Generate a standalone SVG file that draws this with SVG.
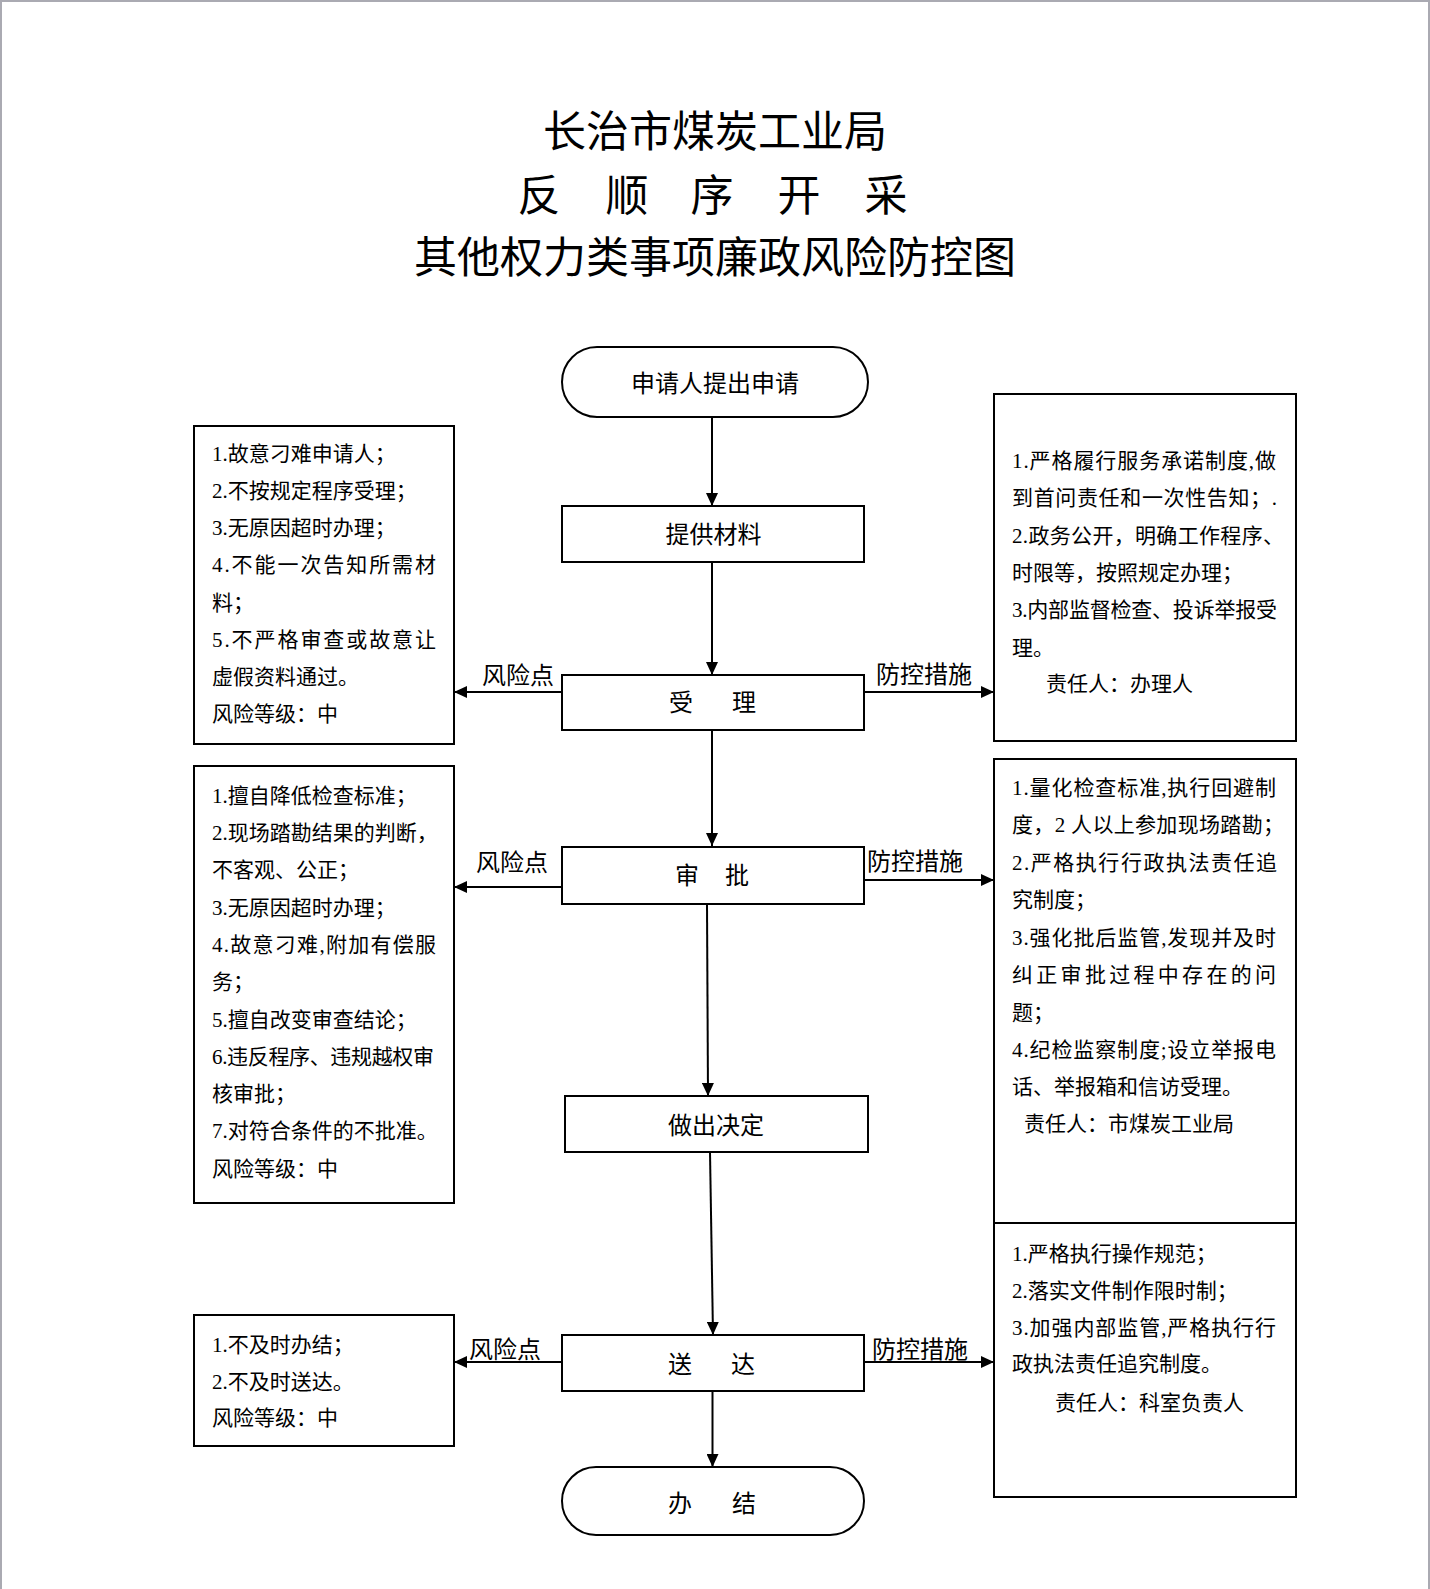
<svg xmlns="http://www.w3.org/2000/svg" width="1430" height="1589" viewBox="0 0 1430 1589">
<style>
  text { font-family: "Liberation Serif", "Noto Sans CJK SC", serif; fill: #000; }
  .title { font-size: 43px; text-anchor: middle; }
  .node { font-size: 24px; text-anchor: middle; }
  .lab { font-size: 24px; }
  .body { font-size: 21px; }
  .shape { fill: #fff; stroke: #000; stroke-width: 2; }
  .conn { fill: none; stroke: #000; stroke-width: 2; }
  .frame { stroke: #aaaab2; stroke-width: 2; }
</style>
<defs>
  <marker id="arr" markerUnits="userSpaceOnUse" markerWidth="14" markerHeight="12" refX="13" refY="6" orient="auto">
    <path d="M0,0 L13,6 L0,12 Z" fill="#000"/>
  </marker>
</defs>
<rect x="0" y="0" width="1430" height="1589" fill="#fff"/>
<g id="page-frame">
  <line class="frame" x1="0" y1="1" x2="1430" y2="1"/>
  <line class="frame" x1="1" y1="0" x2="1" y2="1589"/>
  <line class="frame" x1="1429" y1="0" x2="1429" y2="1589"/>
</g>

<g id="title">
  <text class="title" x="715" y="146.5">长治市煤炭工业局</text>
  <text class="title" x="539 583 627 669.5 712 755.5 799 842.5 886" y="210.5">反 顺 序 开 采</text>
  <text class="title" x="715" y="273">其他权力类事项廉政风险防控图</text>
</g>

<g id="connectors">
  <line class="conn" x1="712" y1="417" x2="712" y2="506" marker-end="url(#arr)"/>
  <line class="conn" x1="712" y1="562" x2="712" y2="675" marker-end="url(#arr)"/>
  <line class="conn" x1="712" y1="730" x2="712" y2="846" marker-end="url(#arr)"/>
  <line class="conn" x1="707" y1="904" x2="708" y2="1096" marker-end="url(#arr)"/>
  <line class="conn" x1="710" y1="1152" x2="713" y2="1335" marker-end="url(#arr)"/>
  <line class="conn" x1="712.5" y1="1391" x2="712.5" y2="1467" marker-end="url(#arr)"/>
  <line class="conn" x1="562" y1="692" x2="454" y2="692" marker-end="url(#arr)"/>
  <line class="conn" x1="864" y1="692" x2="994" y2="692" marker-end="url(#arr)"/>
  <line class="conn" x1="562" y1="887" x2="454" y2="887" marker-end="url(#arr)"/>
  <line class="conn" x1="864" y1="880" x2="994" y2="880" marker-end="url(#arr)"/>
  <line class="conn" x1="562" y1="1362" x2="454" y2="1362" marker-end="url(#arr)"/>
  <line class="conn" x1="864" y1="1362" x2="994" y2="1362" marker-end="url(#arr)"/>
  <text class="lab" x="482" y="683.7">风险点</text>
  <text class="lab" x="876" y="682.6">防控措施</text>
  <text class="lab" x="476" y="871">风险点</text>
  <text class="lab" x="867" y="870">防控措施</text>
  <text class="lab" x="469" y="1357.6">风险点</text>
  <text class="lab" x="872" y="1357.6">防控措施</text>
</g>

<g id="n-start">
  <rect class="shape" x="562" y="347" width="306" height="70" rx="35" ry="35"/>
  <text class="node" x="715" y="391.7">申请人提出申请</text>
</g>
<g id="n-materials">
  <rect class="shape" x="562" y="506" width="302" height="56"/>
  <text class="node" x="713.5" y="542.6">提供材料</text>
</g>
<g id="n-accept">
  <rect class="shape" x="562" y="675" width="302" height="55"/>
  <text class="node" x="681 744" y="711">受理</text>
</g>
<g id="n-approve">
  <rect class="shape" x="562" y="847" width="302" height="57"/>
  <text class="node" x="687 737" y="883.7">审批</text>
</g>
<g id="n-decide">
  <rect class="shape" x="565" y="1096" width="303" height="56"/>
  <text class="node" x="716" y="1133.6">做出决定</text>
</g>
<g id="n-deliver">
  <rect class="shape" x="562" y="1335" width="302" height="56"/>
  <text class="node" x="680 743" y="1372.6">送达</text>
</g>
<g id="n-end">
  <rect class="shape" x="562" y="1467" width="302" height="68" rx="34" ry="34"/>
  <text class="node" x="680 744" y="1512">办结</text>
</g>

<g id="risk-accept">
  <rect class="shape" x="194" y="426" width="260" height="318"/>
  <text class="body" x="212" y="460.7">1.故意刁难申请人；</text>
  <text class="body" x="212" y="497.9">2.不按规定程序受理；</text>
  <text class="body" x="212" y="535.1">3.无原因超时办理；</text>
  <text class="body" x="212" y="572.3" textLength="224" lengthAdjust="spacing">4.不能一次告知所需材</text>
  <text class="body" x="212" y="609.5">料；</text>
  <text class="body" x="212" y="646.7" textLength="224" lengthAdjust="spacing">5.不严格审查或故意让</text>
  <text class="body" x="212" y="683.9">虚假资料通过。</text>
  <text class="body" x="212" y="721.1">风险等级：中</text>
</g>

<g id="control-accept">
  <rect class="shape" x="994" y="394" width="302" height="347"/>
  <text class="body" x="1012" y="467.7" textLength="264" lengthAdjust="spacing">1.严格履行服务承诺制度,做</text>
  <text class="body" x="1012" y="504.7" textLength="265" lengthAdjust="spacing">到首问责任和一次性告知；.</text>
  <text class="body" x="1012" y="542.7" textLength="272" lengthAdjust="spacing">2.政务公开，明确工作程序、</text>
  <text class="body" x="1012" y="579.7">时限等，按照规定办理；</text>
  <text class="body" x="1012" y="616.7" textLength="265" lengthAdjust="spacing">3.内部监督检查、投诉举报受</text>
  <text class="body" x="1012" y="654.7">理。</text>
  <text class="body" x="1046" y="690.7">责任人：办理人</text>
</g>

<g id="risk-approve">
  <rect class="shape" x="194" y="766" width="260" height="437"/>
  <text class="body" x="212" y="802.7">1.擅自降低检查标准；</text>
  <text class="body" x="212" y="840">2.现场踏勘结果的判断，</text>
  <text class="body" x="212" y="877.3">不客观、公正；</text>
  <text class="body" x="212" y="914.6">3.无原因超时办理；</text>
  <text class="body" x="212" y="951.9" textLength="224" lengthAdjust="spacing">4.故意刁难,附加有偿服</text>
  <text class="body" x="212" y="989.2">务；</text>
  <text class="body" x="212" y="1026.5">5.擅自改变审查结论；</text>
  <text class="body" x="212" y="1063.8" textLength="222" lengthAdjust="spacing">6.违反程序、违规越权审</text>
  <text class="body" x="212" y="1101.1">核审批；</text>
  <text class="body" x="212" y="1138.4">7.对符合条件的不批准。</text>
  <text class="body" x="212" y="1175.7">风险等级：中</text>
</g>

<g id="control-approve">
  <rect class="shape" x="994" y="759" width="302" height="464"/>
  <text class="body" x="1012" y="794.7" textLength="264" lengthAdjust="spacing">1.量化检查标准,执行回避制</text>
  <text class="body" x="1012" y="831.7" textLength="272" lengthAdjust="spacing">度，2 人以上参加现场踏勘；</text>
  <text class="body" x="1012" y="869.7" textLength="265" lengthAdjust="spacing">2.严格执行行政执法责任追</text>
  <text class="body" x="1012" y="906.7">究制度；</text>
  <text class="body" x="1012" y="944.7" textLength="264" lengthAdjust="spacing">3.强化批后监管,发现并及时</text>
  <text class="body" x="1012" y="981.7" textLength="264" lengthAdjust="spacing">纠正审批过程中存在的问</text>
  <text class="body" x="1012" y="1019.7">题；</text>
  <text class="body" x="1012" y="1056.7" textLength="264" lengthAdjust="spacing">4.纪检监察制度;设立举报电</text>
  <text class="body" x="1012" y="1093.7">话、举报箱和信访受理。</text>
  <text class="body" x="1024" y="1130.7">责任人：市煤炭工业局</text>
</g>

<g id="risk-deliver">
  <rect class="shape" x="194" y="1315" width="260" height="131"/>
  <text class="body" x="212" y="1352">1.不及时办结；</text>
  <text class="body" x="212" y="1388.5">2.不及时送达。</text>
  <text class="body" x="212" y="1425">风险等级：中</text>
</g>

<g id="control-deliver">
  <rect class="shape" x="994" y="1223" width="302" height="274"/>
  <text class="body" x="1012" y="1260.7">1.严格执行操作规范；</text>
  <text class="body" x="1012" y="1297.7">2.落实文件制作限时制；</text>
  <text class="body" x="1012" y="1334.7" textLength="264" lengthAdjust="spacing">3.加强内部监管,严格执行行</text>
  <text class="body" x="1012" y="1370.7">政执法责任追究制度。</text>
  <text class="body" x="1055" y="1409.7">责任人：科室负责人</text>
</g>
</svg>
